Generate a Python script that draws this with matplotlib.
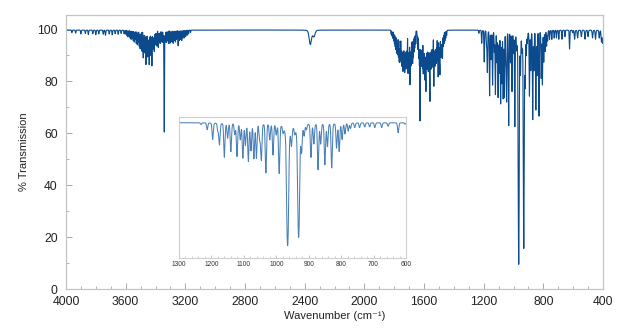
import numpy as np
import matplotlib
matplotlib.use("Agg")
import matplotlib.pyplot as plt

plt.rcParams['font.family'] = ['Liberation Sans', 'DejaVu Sans']

# ---- absorption lines: centre (cm^-1) and minimum % transmission ----
# weak lines, high wavenumber end
hi_pos = [3960, 3935, 3900, 3870, 3850, 3820, 3800, 3780, 3750, 3735, 3710, 3690,
          3670, 3650, 3630, 3610]
hi_T = [99.0, 98.8, 98.5, 98.7, 98.3, 98.6, 98.2, 98.5, 98.4, 98.0, 98.5, 98.2,
        98.6, 98.4, 98.7, 98.5]

# 3600-3150 band
oh_pos = [3600, 3592, 3585, 3578, 3570, 3563, 3556, 3549, 3542, 3536, 3529, 3522,
          3516, 3509, 3503, 3497, 3490, 3482, 3476, 3470, 3464, 3458, 3452, 3447,
          3442, 3436, 3430, 3424, 3418, 3413, 3408, 3402, 3396, 3390, 3381, 3375,
          3369, 3362, 3355, 3348, 3341, 3334, 3327, 3320, 3313, 3303, 3296, 3289,
          3281, 3274, 3266, 3259, 3248, 3240, 3232, 3224, 3216, 3207, 3198, 3188,
          3178, 3165]
oh_T = [98.5, 98.0, 97.5, 97.8, 97.0, 96.5, 97.0, 96.0, 95.5, 96.5, 95.0, 94.5,
        95.5, 94.0, 93.0, 94.5, 92.0, 89.5, 93.0, 91.5, 87.0, 92.0, 90.0, 93.0,
        87.0, 92.0, 90.5, 86.5, 93.0, 94.0, 92.0, 94.5, 95.0, 94.0, 93.5, 95.5,
        95.0, 96.0, 95.5, 96.0, 60.7, 96.0, 95.5, 96.0, 95.0, 95.0, 96.0, 95.5,
        95.0, 96.0, 95.5, 96.5, 94.0, 96.0, 96.5, 96.0, 97.0, 97.0, 97.5, 98.0,
        98.5, 99.0]

# CO2 doublet
co2_pos = [2362, 2338]
co2_T = [94.5, 97.5]

# 1820-1440 band
mid_pos = [1820, 1814, 1809, 1803, 1798, 1793, 1789, 1784, 1780, 1776, 1771, 1766,
           1762, 1758, 1753, 1749, 1745, 1741, 1737, 1733, 1729, 1725, 1721, 1717,
           1713, 1707, 1703, 1699, 1694, 1690, 1686, 1681, 1676, 1672, 1667, 1662,
           1657, 1645, 1640, 1635, 1631, 1627, 1622, 1618, 1614, 1610, 1605, 1601,
           1597, 1594, 1590, 1587, 1583, 1579, 1575, 1571, 1567, 1563, 1560, 1556,
           1552, 1548, 1544, 1540, 1534, 1530, 1526, 1522, 1518, 1514, 1509, 1505,
           1500, 1496, 1493, 1488, 1484, 1480, 1476, 1471, 1466, 1460, 1454, 1448]
mid_T = [98.5, 97.8, 97.0, 96.0, 95.0, 94.0, 93.0, 91.6, 92.5, 91.0, 90.0, 88.4,
         88.4, 90.0, 89.0, 87.0, 88.0, 85.0, 89.0, 87.5, 84.6, 88.0, 86.0, 89.0,
         87.0, 84.0, 88.0, 86.0, 79.7, 88.0, 87.0, 89.0, 87.8, 90.0, 92.0, 93.5,
         95.0, 95.0, 93.0, 90.0, 88.0, 65.5, 89.0, 87.0, 90.0, 86.0, 84.0, 88.0,
         86.0, 82.7, 87.0, 78.0, 88.0, 86.0, 89.0, 85.0, 88.0, 87.0, 74.0, 89.0,
         86.0, 90.0, 88.0, 86.5, 79.0, 89.0, 87.0, 90.0, 88.0, 91.0, 89.0, 82.6,
         91.0, 89.0, 84.0, 92.0, 90.0, 93.0, 89.5, 94.0, 95.0, 96.0, 97.0, 98.0]

# 1250-600 fingerprint region
fp_pos = [1232, 1213, 1196, 1180, 1175, 1160, 1150, 1140, 1128, 1121, 1111, 1103,
          1095, 1086, 1078, 1069, 1061, 1051, 1046, 1032, 1020, 1010, 1000, 991,
          979, 953, 943, 922, 914, 907, 893, 884, 871, 863, 850, 842, 829, 814,
          806, 797, 788, 778, 771, 758, 743, 727, 712, 696, 675, 655, 624, 603]
fp_T = [98.8, 95.0, 87.8, 94.0, 84.0, 74.8, 89.0, 79.0, 92.0, 75.5, 88.0, 74.4,
        84.0, 72.0, 80.0, 74.0, 74.4, 88.0, 73.0, 63.4, 88.0, 76.8, 92.0, 63.4,
        95.0, 86.5, 95.0, 81.7, 92.0, 96.0, 75.0, 85.0, 65.8, 85.0, 69.5, 83.0,
        67.0, 81.7, 79.2, 88.0, 92.0, 94.0, 96.0, 96.5, 96.5, 97.0, 97.0, 96.5,
        96.5, 97.5, 92.7, 99.0]

# two strongest bands
strong_pos = [965, 931]
strong_T = [9.6, 15.8]

# weak lines, low wavenumber end
lo_pos = [590, 570, 545, 520, 500, 470, 450, 425, 410, 402]
lo_T = [96.5, 97.0, 97.5, 96.5, 97.5, 97.0, 96.5, 97.0, 95.5, 95.0]

baseline = 99.8

wn = np.arange(400.0, 4000.25, 0.25)


def band_absorbance(x, pos, trans, width, eta):
    """Pseudo-Voigt sum; each line reaches its listed transmission at its centre."""
    a = np.zeros_like(x)
    for c, t in zip(pos, trans):
        amp = -np.log10(t / 100.0)
        d = (x - c) / width
        a += amp * ((1 - eta) * np.exp(-np.log(2) * d ** 2) + eta / (1 + d ** 2))
    return a


absorb = (band_absorbance(wn, hi_pos, hi_T, 2.5, 0.2)
          + band_absorbance(wn, oh_pos, oh_T, 1.6, 0.2)
          + band_absorbance(wn, co2_pos, co2_T, 9.0, 0.2)
          + band_absorbance(wn, mid_pos, mid_T, 1.5, 0.2)
          + band_absorbance(wn, fp_pos, fp_T, 2.2, 0.15)
          + band_absorbance(wn, strong_pos, strong_T, 2.6, 0.35)
          + band_absorbance(wn, lo_pos, lo_T, 3.0, 0.2))
trans = baseline * 10 ** (-absorb)

line_color = '#0b4a8c'
frame_color = '#c4c4c4'
tick_color = '#a8a8a8'

fig = plt.figure(figsize=(6.43, 3.31), dpi=100)
ax = fig.add_axes([66 / 643, 1 - 289 / 331, (603 - 66) / 643, (289 - 15) / 331])
ax.plot(wn, trans, color=line_color, lw=0.8)
ax.set_xlim(4000, 400)
ax.set_ylim(0, 105.6)
ax.set_xticks(np.arange(4000, 399, -400))
ax.set_xticks(np.arange(4000, 399, -100), minor=True)
ax.set_yticks(np.arange(0, 101, 20))
ax.set_yticks(np.arange(0, 101, 10), minor=True)
ax.tick_params(which='both', direction='in', color=tick_color, labelsize=8.8,
               labelcolor='#222222')
ax.tick_params(which='major', length=4, width=0.7)
ax.tick_params(which='minor', length=2.5, width=0.6)
ax.tick_params(axis='y', pad=6)
ax.tick_params(axis='x', pad=5)
for s in ax.spines.values():
    s.set_color(frame_color)
    s.set_linewidth(0.9)
ax.set_xlabel('Wavenumber (cm\u207b\u00b9)', fontsize=8, labelpad=2, color='#222222')
ax.set_ylabel('% Transmission', fontsize=8, labelpad=6, color='#222222')

# zoomed view of the fingerprint region
ins = fig.add_axes([179 / 643, 1 - 258 / 331, (406 - 179) / 643, (258 - 117) / 331])
ins.plot(wn, trans, color='#4a80b8', lw=0.75)
ins.set_xlim(1300, 600)
ins.set_ylim(0.5, 104)
ins.set_xticks(np.arange(1300, 599, -100))
ins.set_xticks(np.arange(1300, 599, -20), minor=True)
ins.set_yticks([])
ins.tick_params(which='both', direction='in', color=tick_color, labelsize=4.8,
                pad=2, labelcolor='#333333')
ins.tick_params(which='major', length=2.5, width=0.5)
ins.tick_params(which='minor', length=1.5, width=0.4)
for s in ins.spines.values():
    s.set_color('#cfcfcf')
    s.set_linewidth(0.8)

fig.savefig('out.png', dpi=100)
